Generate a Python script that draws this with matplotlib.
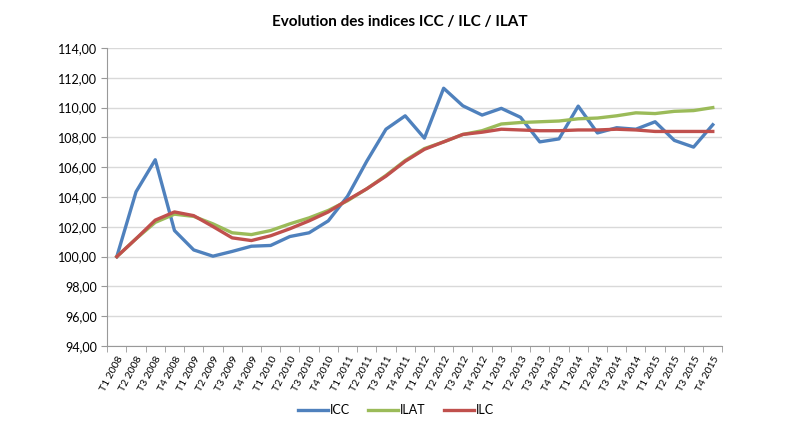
import numpy as np
import matplotlib
matplotlib.use("Agg")
import matplotlib.pyplot as plt
from matplotlib.ticker import FuncFormatter, FixedLocator

# --- Data ---
quarters = [f"T{q} {y}" for y in range(2008, 2016) for q in range(1, 5)]

icc = [100.00, 104.35, 106.50, 101.75, 100.45, 100.03, 100.35, 100.70,
       100.75, 101.35, 101.60, 102.40, 104.05, 106.40, 108.55, 109.45,
       107.95, 111.30, 110.12, 109.50, 109.95, 109.35, 107.70, 107.90,
       110.10, 108.30, 108.65, 108.55, 109.05, 107.80, 107.35, 108.85]

ilat = [100.00, 101.20, 102.30, 102.85, 102.70, 102.20, 101.60, 101.48,
        101.75, 102.20, 102.60, 103.10, 103.75, 104.55, 105.45, 106.45,
        107.25, 107.70, 108.20, 108.45, 108.90, 109.00, 109.05, 109.10,
        109.25, 109.30, 109.45, 109.65, 109.60, 109.75, 109.80, 110.00]

ilc = [100.00, 101.20, 102.45, 103.00, 102.75, 102.02, 101.26, 101.08,
       101.40, 101.87, 102.40, 103.00, 103.80, 104.55, 105.40, 106.40,
       107.20, 107.70, 108.20, 108.35, 108.55, 108.50, 108.45, 108.45,
       108.50, 108.50, 108.55, 108.50, 108.40, 108.40, 108.40, 108.40]

series = [("ICC", icc, "#4F81BD"), ("ILAT", ilat, "#9BBB59"), ("ILC", ilc, "#C0504D")]

plt.rcParams['font.family'] = ['Lato', 'DejaVu Sans']

fig = plt.figure(figsize=(8, 4.21), dpi=100)
ax = fig.add_axes([0.134, 0.178, 0.769, 0.708])

x = np.arange(len(quarters))
for name, vals, color in series:
    ax.plot(x, vals, color=color, linewidth=2.4, label=name, solid_joinstyle='round')

ax.set_xlim(-0.5, len(quarters) - 0.5)
ax.set_ylim(94, 114)
ax.set_yticks(np.arange(94, 115, 2))
ax.yaxis.set_major_formatter(FuncFormatter(lambda v, p: f"{v:.2f}".replace(".", ",")))
ax.grid(axis='y', color='#D9D9D9', linewidth=1)
ax.set_axisbelow(True)

ax.set_xticks(x)
ax.set_xticklabels(quarters, rotation=62, ha='right', rotation_mode='anchor', fontsize=7.5)
ax.xaxis.set_minor_locator(FixedLocator(np.arange(-0.5, len(quarters), 1)))
ax.tick_params(axis='x', which='major', length=0, pad=6)
ax.tick_params(axis='x', which='minor', length=4, color='#999999')
ax.tick_params(axis='y', length=4, color='#999999', labelsize=9)

for s in ['top', 'right']:
    ax.spines[s].set_visible(False)
for s in ['left', 'bottom']:
    ax.spines[s].set_color('#999999')

fig.suptitle("Evolution des indices ICC / ILC / ILAT", y=0.965, fontsize=11, fontweight='bold')

fig.legend(loc='center', bbox_to_anchor=(0.495, 0.026), ncol=3, frameon=False,
           fontsize=9, handlelength=2.4, handletextpad=0.15, columnspacing=1.5)

fig.savefig("out.png", dpi=100)
